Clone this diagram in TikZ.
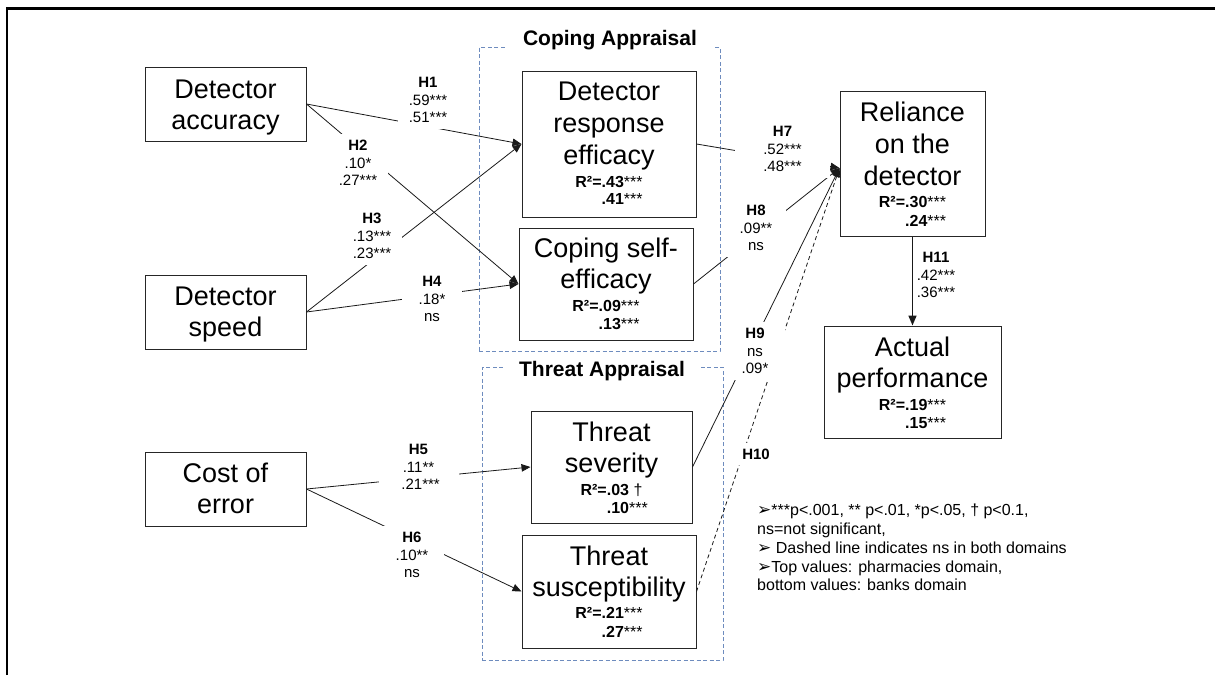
\documentclass[tikz,border=0pt]{standalone}
\usepackage{fontspec}
\setmainfont{Liberation Sans}
\newfontfamily\symfont{DejaVu Sans}
\usetikzlibrary{arrows.meta}
\definecolor{grpblue}{RGB}{110,140,190}
\newcommand{\mystars}[1]{{\mdseries #1}}
\newcommand{\legarrow}{{\symfont\fontsize{17}{17}\selectfont ➢}}
\tikzset{
  box/.style={draw=black!85, line width=1pt, inner sep=0pt},
  big/.style={anchor=base, inner sep=0pt, font=\fontsize{27}{31}\selectfont},
  rsq/.style={anchor=base, inner sep=0pt, font=\bfseries\fontsize{16}{18}\selectfont},
  rsqb/.style={anchor=base west, inner sep=0pt, font=\bfseries\fontsize{16}{18}\selectfont},
  grp/.style={draw=grpblue, line width=0.9pt, dash pattern=on 4pt off 2.5pt, inner sep=0pt},
  grptitle/.style={fill=white, inner xsep=16pt, inner ysep=1pt, anchor=base, font=\bfseries\fontsize{21}{21}\selectfont},
  conn/.style={draw=black!90, line width=0.8pt, -{Triangle[length=9pt,width=7.5pt]}},
  lab/.style={fill=white, align=center, minimum width=60pt, inner xsep=2pt, inner ysep=6pt, font=\fontsize{15}{17.5}\selectfont},
  legend/.style={anchor=base west, inner sep=0pt, font=\fontsize{16}{19}\selectfont},
}
\begin{document}
\begin{tikzpicture}[x=1pt,y=-1pt]
\useasboundingbox (0,0) rectangle (1215,675);
% outer frame
\draw[line width=2.7pt] (7,675) -- (7,8.5) -- (1215,8.5);

% groups
\node[grp, minimum width=241pt, minimum height=304pt] (cope) at (599.5,199) {};
\node[grp, minimum width=241pt, minimum height=293pt] (threat) at (602.5,513.5) {};

% boxes
\node[box, minimum width=161pt, minimum height=74pt] (acc) at (225.5,104) {};
\node[box, minimum width=161pt, minimum height=74pt] (speed) at (225.5,312) {};
\node[box, minimum width=161pt, minimum height=74pt] (cost) at (225.5,489) {};
\node[box, minimum width=174pt, minimum height=146pt] (dre) at (609,144) {};
\node[box, minimum width=174pt, minimum height=112pt] (cse) at (606,284) {};
\node[box, minimum width=161pt, minimum height=112pt] (ts) at (611.5,467) {};
\node[box, minimum width=174pt, minimum height=113pt] (tsu) at (609,591.5) {};
\node[box, minimum width=145pt, minimum height=145pt] (rel) at (912.5,163.5) {};
\node[box, minimum width=177pt, minimum height=112pt] (act) at (912.5,382) {};

% box texts
\node[big] (acc-a) at (225.5,98) {Detector};
\node[big] (acc-b) at (225.5,129) {accuracy};
\node[big] (speed-a) at (225.5,305) {Detector};
\node[big] (speed-b) at (225.5,336) {speed};
\node[big] (cost-a) at (225.5,482) {Cost of};
\node[big] (cost-b) at (225.5,513) {error};

\node[big] (dre-a) at (609,100) {Detector};
\node[big] (dre-b) at (609,132) {response};
\node[big] (dre-c) at (609,164) {efficacy};
\node[rsq] (dre-r) at (609,187) {R²=.43\mystars{***}};
\node[rsqb] (dre-r2) at ([yshift=-17pt]dre-r.base west) {\phantom{R²=}.41\mystars{***}};

\node[big] (cse-a) at (606,257) {Coping self-};
\node[big] (cse-b) at (606,288) {efficacy};
\node[rsq] (cse-r) at (606,311) {R²=.09\mystars{***}};
\node[rsqb] (cse-r2) at ([yshift=-18pt]cse-r.base west) {\phantom{R²=}.13\mystars{***}};

\node[big] (ts-a) at (611.5,441) {Threat};
\node[big] (ts-b) at (611.5,472.5) {severity};
\node[rsq] (ts-r) at (611.5,495) {R²=.03 \mystars{†}};
\node[rsqb] (ts-r2) at ([yshift=-18pt]ts-r.base west) {\phantom{R²=}.10\mystars{***}};

\node[big] (tsu-a) at (609,565) {Threat};
\node[big] (tsu-b) at (609,596.5) {susceptibility};
\node[rsq] (tsu-r) at (609,618) {R²=.21\mystars{***}};
\node[rsqb] (tsu-r2) at ([yshift=-19pt]tsu-r.base west) {\phantom{R²=}.27\mystars{***}};

\node[big] (rel-a) at (912.5,121.5) {Reliance};
\node[big] (rel-b) at (912.5,153.3) {on the};
\node[big] (rel-c) at (912.5,185) {detector};
\node[rsq] (rel-r) at (912.5,207.3) {R²=.30\mystars{***}};
\node[rsqb] (rel-r2) at ([yshift=-18.7pt]rel-r.base west) {\phantom{R²=}.24\mystars{***}};

\node[big] (act-a) at (912.5,356) {Actual};
\node[big] (act-b) at (912.5,387.3) {performance};
\node[rsq] (act-r) at (912.5,410) {R²=.19\mystars{***}};
\node[rsqb] (act-r2) at ([yshift=-18.3pt]act-r.base west) {\phantom{R²=}.15\mystars{***}};

% group titles
\node[grptitle] (cope-t) at (610,45) {Coping Appraisal};
\node[grptitle] (threat-t) at (602,376) {Threat Appraisal};

% connectors
\draw[conn] (acc.east) -- (dre.west);
\draw[conn] (acc.east) -- (cse.west);
\draw[conn] (speed.east) -- (dre.west);
\draw[conn] (speed.east) -- (cse.west);
\draw[conn] (cost.east) -- (ts.west);
\draw[conn] (cost.east) -- (tsu.west);
\draw[conn] (dre.east) -- ([yshift=-4.5pt]rel.west);
\draw[conn] (cse.east) -- ([yshift=-4.5pt]rel.west);
\draw[conn] (ts.east) -- ([yshift=-4.5pt]rel.west);
\draw[conn, dash pattern=on 4pt off 3pt] (tsu.east) -- ([yshift=-4.5pt]rel.west);
\draw[conn, line width=1.6pt, -{Triangle[length=10pt,width=8pt]}] (rel.south) -- (act.north);

% connector labels
\node[lab] (h1) at (428,100) {\textbf{H1}\\.59***\\.51***};
\node[lab] (h2) at (358,163) {\textbf{H2}\\.10*\\.27***};
\node[lab] (h3) at (372,236) {\textbf{H3}\\.13***\\.23***};
\node[lab] (h4) at (432,299) {\textbf{H4}\\.18*\\ns};
\node[lab, minimum width=80pt] (h5) at (418.5,467) {\textbf{H5}\\.11**\\\phantom{.}.21***};
\node[lab, minimum width=64pt] (h6) at (412,555) {\textbf{H6}\\.10**\\ns};
\node[lab, minimum width=95pt] (h7) at (782.5,149) {\textbf{H7}\\.52***\\.48***};
\node[lab] (h8) at (756,228) {\textbf{H8}\\.09**\\ns};
\node[lab] (h9) at (755,351) {\textbf{H9}\\ns\\.09*};
\node[lab] (h10) at (756,454) {\textbf{H10}};
\node[lab, fill=none] (h11) at (936,275) {\textbf{H11}\\.42***\\.36***};

% legend
\node[legend] (lg1) at (757,515) {\legarrow***p<.001, ** p<.01, *p<.05, † p<0.1,};
\node[legend] (lg2) at (757,534) {ns=not significant,};
\node[legend] (lg3) at (757,553) {\legarrow{} Dashed line indicates ns in both domains};
\node[legend] (lg4) at (757,572) {\legarrow Top values: pharmacies domain,};
\node[legend] (lg5) at (757,590) {bottom values: banks domain};
\end{tikzpicture}
\end{document}
